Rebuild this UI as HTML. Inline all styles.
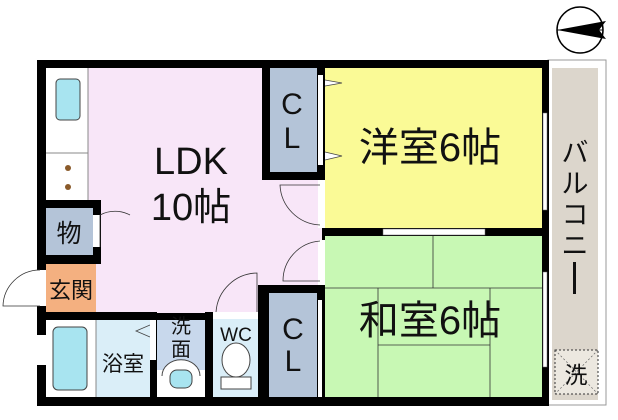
<!DOCTYPE html>
<html><head><meta charset="utf-8"><style>
html,body{margin:0;padding:0;background:#fff;}
svg{display:block}
text{font-family:"Liberation Sans","Noto Sans CJK JP",sans-serif;fill:#111}
</style></head><body>
<svg width="618" height="420" viewBox="0 0 618 420" xmlns="http://www.w3.org/2000/svg">
<rect width="618" height="420" fill="#fff"/>
<circle cx="580" cy="30" r="23" fill="#fff" stroke="#000" stroke-width="1.5"/>
<line x1="557" y1="30" x2="603" y2="30" stroke="#000" stroke-width="1"/>
<polygon points="557,30 606,21 599,30 606,39" fill="#000"/>
<rect x="548" y="60" width="58" height="345" fill="#fff" stroke="#999" stroke-width="1"/>
<rect x="552" y="68" width="46" height="332" fill="#dcd6cc"/>
<rect x="555" y="350" width="43" height="44" fill="#ece8e0" stroke="#333" stroke-width="1" stroke-dasharray="2,2"/>
<line x1="555" y1="350" x2="598" y2="394" stroke="#666" stroke-width="0.7" stroke-dasharray="2,2"/>
<line x1="598" y1="350" x2="555" y2="394" stroke="#666" stroke-width="0.7" stroke-dasharray="2,2"/>
<text x="576" y="383" font-size="23" text-anchor="middle">洗</text>
<rect x="37" y="60" width="512" height="346" fill="#000"/>
<rect x="46" y="68" width="276" height="245" fill="#f8e6f8"/>
<rect x="46" y="68" width="42" height="132" fill="#fff"/>
<line x1="88" y1="68" x2="88" y2="200" stroke="#888" stroke-width="1"/>
<line x1="46" y1="153" x2="88" y2="153" stroke="#888" stroke-width="1"/>
<rect x="56" y="79" width="24" height="41" rx="4" fill="#a8e4f0" stroke="#444" stroke-width="1"/>
<circle cx="68" cy="168" r="3" fill="#8a5a2a"/>
<circle cx="68" cy="187" r="3" fill="#8a5a2a"/>
<rect x="37" y="200" width="64" height="64" fill="#000"/>
<rect x="46" y="208" width="47" height="47" fill="#b4c4d8"/>
<rect x="93" y="215" width="7" height="32" fill="#fff"/>
<path d="M100,247 L100,215 A32,32 0 0 1 130,215" fill="none" stroke="#333" stroke-width="0.8"/>
<text x="69" y="242" font-size="25" text-anchor="middle">物</text>
<rect x="46" y="264" width="50" height="49" fill="#f4b080"/>
<rect x="37" y="270" width="9" height="36" fill="#fff"/>
<path d="M40,306 L3,306 A37,37 0 0 1 40,270" fill="none" stroke="#333" stroke-width="0.8"/>
<text x="71" y="298" font-size="22" text-anchor="middle">玄関</text>
<rect x="37" y="312" width="120" height="8" fill="#000"/>
<rect x="46" y="320" width="104" height="77" fill="#daeef8"/>
<rect x="46" y="320" width="50" height="77" fill="#fff"/>
<line x1="96" y1="320" x2="96" y2="397" stroke="#888" stroke-width="1"/>
<rect x="53" y="327" width="34" height="63" rx="5" fill="#a8e4f0" stroke="#444" stroke-width="1"/>
<rect x="37" y="335" width="9" height="30" fill="#fff"/>
<polyline points="150,325 136,331 150,337" fill="none" stroke="#444" stroke-width="0.8"/>
<rect x="150" y="312" width="7" height="85" fill="#000"/>
<rect x="150" y="320" width="6" height="40" fill="#fff"/>
<text x="123" y="371" font-size="21" text-anchor="middle">浴室</text>
<rect x="157" y="320" width="48" height="77" fill="#c8d8ec"/>
<rect x="157" y="370" width="48" height="27" fill="#fff"/>
<path d="M162,376 A14,12 0 0 1 200,376" fill="#fff" stroke="#444" stroke-width="1"/>
<rect x="170" y="370" width="22" height="18" rx="7" fill="#a8e4f0" stroke="#444" stroke-width="1"/>
<text x="181" y="333" font-size="20" text-anchor="middle">洗</text>
<text x="181" y="356" font-size="20" text-anchor="middle">面</text>
<rect x="205" y="312" width="8" height="85" fill="#000"/>
<rect x="213" y="312" width="45" height="85" fill="#daeef8"/>
<rect x="213" y="312" width="45" height="7" fill="#fff"/>
<path d="M216,312 A42,42 0 0 1 257,273 L257,312" fill="none" stroke="#333" stroke-width="0.8"/>
<ellipse cx="236" cy="360" rx="14" ry="17" fill="#fff" stroke="#444" stroke-width="1"/>
<rect x="221" y="377" width="30" height="12" fill="#fff" stroke="#444" stroke-width="1"/>
<text x="236" y="341" font-size="19" text-anchor="middle">WC</text>
<rect x="258" y="285" width="67" height="112" fill="#000"/>
<rect x="269" y="293" width="48" height="104" fill="#b4c4d8"/>
<rect x="318" y="300" width="4" height="97" fill="#fff"/>
<text x="293" y="339" font-size="30" text-anchor="middle">C</text>
<text x="293" y="371" font-size="30" text-anchor="middle">L</text>
<rect x="262" y="60" width="63" height="120" fill="#000"/>
<rect x="270" y="68" width="47" height="104" fill="#b4c4d8"/>
<rect x="318" y="75" width="5" height="90" fill="#fff"/>
<text x="292" y="114" font-size="30" text-anchor="middle">C</text>
<text x="292" y="148" font-size="30" text-anchor="middle">L</text>
<rect x="318" y="180" width="7" height="48" fill="#fff"/>
<path d="M320,225 A42,42 0 0 1 280,185 L320,185" fill="none" stroke="#333" stroke-width="0.8"/>
<rect x="318" y="240" width="7" height="45" fill="#fff"/>
<path d="M320,281 L283,281 A40,40 0 0 1 320,241" fill="none" stroke="#333" stroke-width="0.8"/>
<rect x="325" y="68" width="217" height="160" fill="#fafa96"/>
<polyline points="325,80 342,83 325,86" fill="#fff" stroke="#444" stroke-width="0.8"/>
<polyline points="325,152 342,156 325,160" fill="#fff" stroke="#444" stroke-width="0.8"/>
<rect x="543" y="113" width="4" height="97" fill="#fff" stroke="#666" stroke-width="0.5"/>
<text x="430" y="161" font-size="40" text-anchor="middle">洋室6帖</text>
<rect x="325" y="236" width="217" height="161" fill="#c8f8b4"/>
<rect x="383" y="229" width="102" height="6" fill="#fff" stroke="#666" stroke-width="0.5"/>
<g stroke="#333" stroke-width="0.8">
<line x1="433" y1="236" x2="433" y2="288"/>
<line x1="325" y1="288" x2="542" y2="288"/>
<line x1="378" y1="288" x2="378" y2="397"/>
<line x1="490" y1="288" x2="490" y2="397"/>
<line x1="378" y1="345" x2="490" y2="345"/>
</g>
<rect x="543" y="272" width="4" height="95" fill="#fff" stroke="#666" stroke-width="0.5"/>
<text x="430" y="334" font-size="40" text-anchor="middle">和室6帖</text>
<text x="191" y="174" font-size="38" text-anchor="middle">LDK</text>
<text x="191" y="220" font-size="38" text-anchor="middle">10帖</text>
<g font-size="27" text-anchor="middle">
<text x="575" y="162">バ</text>
<text x="575" y="193">ル</text>
<text x="575" y="224">コ</text>
<text x="575" y="255">ニ</text>
</g>
<rect x="573" y="262" width="3" height="32" fill="#111"/>
</svg>
</body></html>
